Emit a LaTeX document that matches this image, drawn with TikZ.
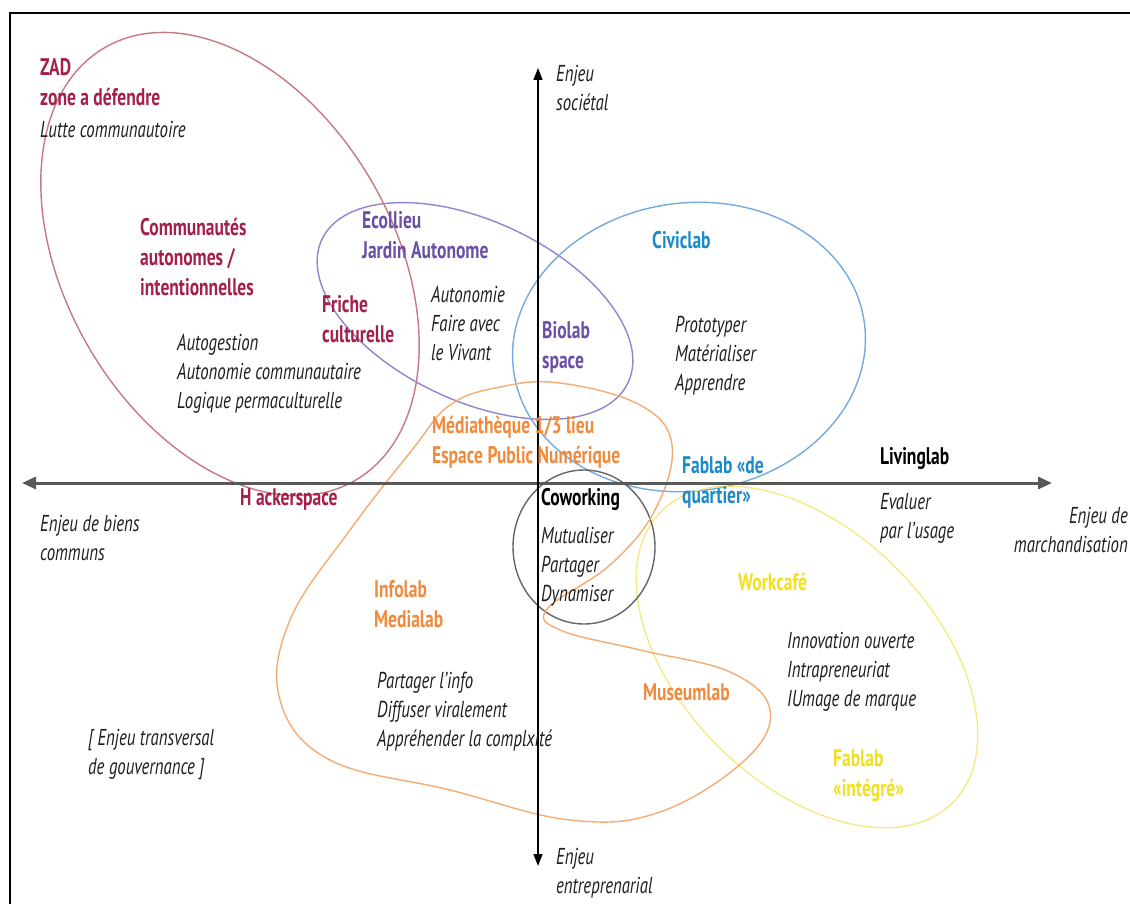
\documentclass[tikz,border=0pt]{standalone}
\usepackage{fontspec}
\setmainfont{PT Sans}[FakeStretch=0.73]
\usetikzlibrary{arrows.meta}
\definecolor{zadred}{HTML}{A3204A}
\definecolor{zadline}{HTML}{C87880}
\definecolor{purptext}{HTML}{6A4FA6}
\definecolor{purpline}{HTML}{9284CC}
\definecolor{bluetext}{HTML}{1B8AC8}
\definecolor{blueline}{HTML}{74AADC}
\definecolor{orgtext}{HTML}{F08A3C}
\definecolor{orgline}{HTML}{F4AC74}
\definecolor{yeltext}{HTML}{F0E01E}
\definecolor{yelline}{HTML}{F4EA86}
\definecolor{txtgray}{HTML}{1E1E1E}
\begin{document}
\begin{tikzpicture}[x=1pt,y=1pt,
  lab/.style={inner sep=0pt, anchor=north west, align=left, font=\fontsize{24}{30}\selectfont\bfseries},
  itx/.style={inner sep=0pt, anchor=north west, align=left, font=\fontsize{23}{29}\selectfont\itshape, text=txtgray},
  shapeline/.style={line width=1.4pt}
]
\useasboundingbox (0,0) rectangle (1130,-904);
\fill[white] (0,0) rectangle (1130,-904);
% frame
\draw[line width=2pt] (10,-904) -- (10,-13) -- (1130,-13);

% shapes
\draw[shapeline, zadline, rotate around={-60:(230,-264)}] (230,-264) ellipse [x radius=250pt, y radius=164pt];
\draw[shapeline, purpline, rotate around={-25:(475,-311)}] (475,-311) ellipse [x radius=169pt, y radius=90pt];
\draw[shapeline, blueline, rotate around={8:(689,-347)}] (689,-347) ellipse [x radius=177pt, y radius=144pt];
\draw[shapeline, yelline, rotate around={-45:(807,-657)}] (807,-657) ellipse [x radius=206pt, y radius=126pt];
\draw[shapeline, black!60] (584,-547) ellipse [x radius=71pt, y radius=77pt];
\draw[shapeline, orgline] plot[smooth cycle, tension=0.65] coordinates {
 (500,-387) (560,-383) (640,-405) (672,-445) (655,-510) (610,-565) (548,-608)
 (560,-630) (640,-650) (730,-672) (770,-710) (745,-760) (660,-812) (570,-820)
 (450,-790) (330,-760) (280,-700) (290,-620) (350,-530) (412,-450) (450,-405)};

% axes
\coordinate (hl) at (22,-483);
\coordinate (hr) at (1052,-483);
\coordinate (vt) at (538,-68);
\coordinate (vb) at (538,-866);
\draw[line width=3pt, black!65, {Triangle[length=14pt,width=12pt]}-{Triangle[length=14pt,width=12pt]}] (hl) -- (hr);
\draw[line width=1.6pt, black, {Triangle[length=12pt,width=9pt]}-{Triangle[length=12pt,width=9pt]}] (vt) -- (vb);

% labels
\node[lab, text=zadred] (zad) at (40,-58) {ZAD\\zone a défendre};
\node[itx] (lutte) at (40,-121) {Lutte communautoire};
\node[lab, text=zadred] (comm) at (140,-218) {Communautés\\autonomes /\\intentionnelles};
\node[itx] (autog) at (177,-334) {Autogestion\\Autonomie communautaire\\Logique permaculturelle};
\node[lab, text=zadred] (friche) at (322,-295) {Friche\\culturelle};
\node[lab, text=purptext] (ecol) at (362,-211) {Ecollieu\\Jardin Autonome};
\node[itx] (auton) at (431,-286) {Autonomie\\Faire avec\\le Vivant};
\node[lab, text=purptext] (biolab) at (542,-321) {Biolab\\space};
\node[lab, text=bluetext] (civic) at (652,-231) {Civiclab};
\node[itx] (proto) at (675,-316) {Prototyper\\Matérialiser\\Apprendre};
\node[lab, text=orgtext] (media) at (432,-416) {Médiathèque 1/3 lieu\\Espace Public Numérique};
\node[lab, text=bluetext] (fabq) at (682,-456) {Fablab «de\\quartier»};
\node[lab, text=black] (living) at (880,-447) {Livinglab};
\node[itx] (evalu) at (880,-493) {Evaluer\\par l’usage};
\node[itx, anchor=north east, align=right] (march) at (1128,-507) {Enjeu de\\marchandisation};
\node[itx] (biens) at (40,-515) {Enjeu de biens\\communs};
\node[lab, text=zadred] (hack) at (240,-488) {H ackerspace};
\node[lab, text=black] (cowork) at (541,-488) {Coworking};
\node[itx] (mutu) at (541,-527) {Mutualiser\\Partager\\Dynamiser};
\node[lab, text=orgtext] (info) at (374,-580) {Infolab\\Medialab};
\node[lab, text=yeltext] (workc) at (738,-573) {Workcafé};
\node[itx] (innov) at (787,-632) {Innovation ouverte\\Intrapreneuriat\\IUmage de marque};
\node[lab, text=orgtext] (museum) at (643,-683) {Museumlab};
\node[itx] (partag) at (377,-672) {Partager l’info\\Diffuser viralement\\Appréhender la complxité};
\node[itx] (transv) at (88,-729) {[ Enjeu transversal\\de gouvernance ]};
\node[lab, text=yeltext] (fabint) at (833,-749) {Fablab\\«intégré»};
\node[itx] (soc) at (556,-65) {Enjeu\\sociétal};
\node[itx] (entr) at (556,-848) {Enjeu\\entreprenarial};
\end{tikzpicture}
\end{document}
